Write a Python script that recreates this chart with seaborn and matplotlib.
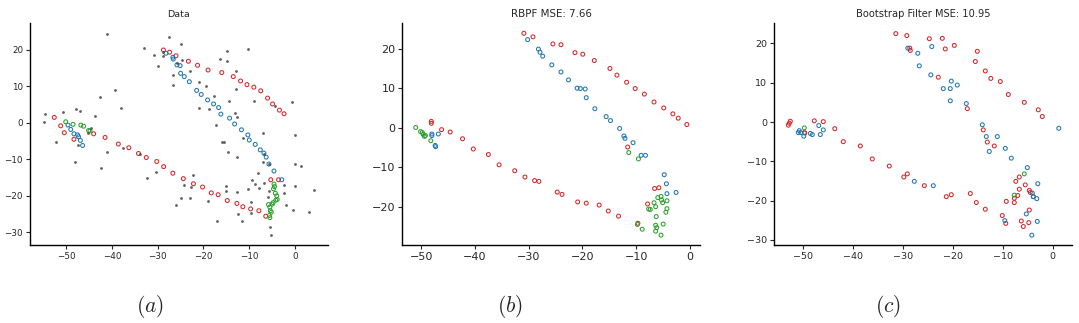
import numpy as np
import pandas as pd
import matplotlib
matplotlib.use("Agg")
import matplotlib.pyplot as plt
import seaborn as sns

# ---------------- data ----------------
# Panel (a): observations
obs_x = [-41.0, -27.5, -25.0, -33.0, -10.3, -14.8, -28.9, -30.8, -28.9, -16.5, -24.6, -14.8, -25.7,
         -29.9, -13.0, -22.9, -26.6, -21.0, -26.6, -19.4, -12.8, -39.4, -42.7, -17.6, -14.4, -9.0,
         -0.7, -4.3, -38.1, -21.0, -18.9, -47.8, -46.9, -50.8, -54.7, -13.2, -43.8, -12.7, -54.9,
         -17.2, -44.5, -6.9, -45.2, -0.1, -11.4, -52.2, -15.6, -16.0, -47.5, -37.5, -14.6, -41.0,
         -33.8, -6.7, -12.6, -48.0, -6.9, -0.1, -5.7, 1.2, -42.4, -30.3, -8.2, -22.3, -32.3, -9.3,
         -8.7, -2.5, -6.7, -15.1, -24.3, -22.8, -10.3, -7.9, 0.1, 4.2, -5.6, -12.6, -15.1, -6.0,
         -22.9, -25.0, -9.6, -19.1, -26.1, -2.0, -0.4, 3.1, -9.7, -12.5, -11.5, -17.0, -5.5, -5.3,
         -2.4]
obs_y = [24.5, 23.6, 21.7, 20.6, 20.3, 19.7, 19.5, 18.7, 18.4, 17.6, 17.3, 16.9, 16.3,
         15.6, 14.2, 14.1, 13.1, 11.3, 10.4, 10.1, 9.4, 9.0, 7.0, 7.3, 6.0, 6.0,
         5.6, 4.5, 4.1, 4.2, 3.9, 3.9, 3.3, 3.1, 2.5, 2.6, 1.8, 1.7, 0.3,
         -0.7, -1.4, -2.9, -2.7, -3.4, -4.2, -5.3, -5.3, -5.3, -6.2, -6.8, -7.9, -7.9,
         -8.4, -8.4, -9.3, -10.7, -10.7, -11.3, -11.4, -11.7, -12.3, -13.5, -13.8, -14.4, -15.0, -15.6,
         -16.7, -17.1, -16.6, -17.4, -17.1, -17.7, -18.1, -18.0, -17.3, -18.3, -18.8, -18.9, -18.8, -20.2,
         -20.5, -20.7, -21.6, -21.4, -22.5, -22.6, -24.0, -24.4, -24.6, -25.1, -26.8, -27.0, -28.6, -30.7,
         -19.1]

# Panel (a): true tracks
a_red_x = [-28.75, -27.4, -26.0, -23.3, -21.3, -19.0, -16.0, -13.5, -11.9, -10.5, -9.0, -7.5, -6.0,
           -4.9, -3.4, -2.4, -52.6, -51.2, -50.4, -48.3, -44.0, -41.5, -38.6, -36.3, -34.2, -32.5,
           -30.2, -28.7, -26.7, -24.4, -22.2, -20.2, -18.3, -16.8, -14.8, -12.7, -11.4, -9.7, -7.9,
           -6.4, -5.3, -3.6]
a_red_y = [20.0, 19.4, 18.4, 16.9, 15.8, 14.5, 13.8, 12.7, 11.5, 10.5, 9.8, 8.8, 6.8,
           5.2, 3.5, 2.5, 1.5, -0.8, -2.7, -4.5, -3.0, -4.0, -5.8, -6.8, -8.4, -9.5,
           -10.6, -12.0, -13.8, -15.3, -16.7, -17.6, -19.2, -19.7, -21.3, -22.1, -23.0, -23.6, -24.1,
           -25.6, -15.6, -15.6]
a_blue_x = [-28.2, -26.7, -26.6, -25.8, -25.1, -25.0, -24.2, -23.1, -21.5, -20.5, -19.1, -17.8, -16.7,
            -16.2, -14.3, -13.2, -11.7, -10.3, -10.0, -8.7, -7.6, -6.8, -6.3, -5.7, -4.6, -2.9,
            -49.6, -49.0, -48.3, -47.5, -47.3, -46.9, -46.4]
a_blue_y = [19.1, 18.0, 17.5, 15.9, 15.7, 13.6, 12.7, 11.3, 8.9, 7.8, 6.3, 5.2, 4.2,
            2.4, 1.3, -0.3, -1.9, -3.3, -4.7, -5.9, -7.4, -8.3, -9.4, -11.3, -13.2, -15.6,
            -0.6, -1.8, -3.0, -3.3, -3.8, -4.8, -6.2]
a_green_x = [-50.1, -48.5, -46.8, -46.2, -45.1, -44.8, -4.6, -4.5, -4.7, -4.3, -4.0, -3.9, -4.2,
             -4.8, -5.0, -5.5, -5.4, -5.2, -5.5, -5.6, -5.8]
a_green_y = [0.3, -0.4, -0.6, -0.9, -2.1, -2.2, -16.8, -17.5, -18.1, -19.3, -20.0, -21.0, -21.2,
             -21.9, -22.3, -23.1, -24.1, -24.5, -26.0, -25.4, -22.4]

# Panel (b): RBPF estimates
b_red_x = [-30.9, -29.2, -25.5, -24.0, -21.4, -19.95, -17.8, -14.9, -13.6, -11.8, -10.2, -8.5, -6.7,
           -4.9, -3.2, -2.2, -0.6, -48.1, -48.1, -46.2, -44.6, -42.3, -40.3, -37.5, -35.5, -32.6,
           -30.7, -28.9, -28.1, -24.7, -23.8, -20.9, -19.3, -16.9, -15.2, -13.3, -9.7, -7.9, -6.6,
           -5.8, -11.6]
b_red_y = [23.9, 23.0, 21.2, 21.0, 19.0, 18.6, 17.0, 15.0, 13.3, 11.5, 9.9, 8.5, 6.5,
           5.0, 3.5, 2.4, 0.8, 1.6, 1.1, -0.5, -1.1, -2.8, -5.4, -6.8, -9.4, -10.9,
           -12.5, -13.4, -13.6, -16.3, -16.9, -18.8, -19.1, -19.6, -21.1, -22.4, -24.2, -19.3, -15.4,
           -15.2, -4.9]
b_blue_x = [-30.2, -28.2, -27.9, -27.4, -25.7, -24.0, -22.6, -21.0, -20.4, -19.5, -19.3, -17.7, -15.6,
            -14.8, -13.1, -12.3, -12.1, -10.6, -9.1, -8.3, -4.8, -4.4, -4.3, -2.6, -48.0, -48.0,
            -47.4, -47.3, -46.8]
b_blue_y = [22.3, 19.9, 19.1, 18.1, 15.9, 14.1, 12.1, 10.0, 9.9, 9.8, 7.6, 4.8, 2.8,
            1.8, -0.2, -2.1, -2.7, -3.8, -7.0, -7.0, -11.9, -14.2, -16.7, -16.4, -1.6, -2.0,
            -4.5, -4.8, -1.6]
b_green_x = [-51.0, -50.1, -49.8, -49.6, -49.4, -49.2, -48.2, -11.4, -9.6, -9.8, -8.9, -6.0, -5.4,
             -5.3, -5.1, -4.3, -6.7, -7.7, -7.4, -6.4, -6.3, -6.4, -6.2, -5.0, -4.5, -4.3, -5.4, -6.4]
b_green_y = [0.05, -1.0, -1.2, -1.7, -2.2, -2.0, -3.3, -6.3, -7.9, -24.5, -25.7, -17.7, -17.4,
             -18.3, -19.0, -18.5, -19.0, -20.6, -20.7, -20.0, -22.5, -24.7, -25.3, -24.4, -21.4, -20.5,
             -27.2, -26.2]

# Panel (c): Bootstrap filter estimates
c_red_x = [-31.4, -29.2, -24.7, -22.1, -19.7, -21.5, -28.6, -28.5, -15.1, -15.5, -13.5, -12.4, -10.5,
           -8.9, -5.7, -2.9, -2.1, -22.9, -17.1, -52.9, -52.7, -52.5, -47.7, -45.9, -49.7, -49.6,
           -43.6, -41.9, -38.5, -36.1, -32.7, -29.8, -29.1, -25.7, -21.3, -20.3, -16.5, -15.3, -13.5,
           -10.1, -9.4, -9.3, -7.7, -7.7, -7.0, -7.4, -6.7, -6.7, -5.5, -4.7, -4.5, -4.7, -4.8,
           -6.3, -5.9, -3.9, -13.9, -13.1, -11.7]
c_red_y = [22.5, 22.0, 21.2, 21.3, 19.5, 18.6, 18.8, 18.2, 18.0, 15.4, 13.0, 11.1, 10.3,
           7.0, 5.0, 3.1, 1.4, 11.4, 3.4, -0.8, -0.3, 0.2, 0.3, 0.1, -2.7, -2.8,
           -1.7, -5.0, -6.1, -9.4, -11.2, -14.0, -13.2, -16.2, -19.0, -18.5, -18.2, -20.5, -22.2,
           -23.8, -25.8, -20.2, -20.5, -19.4, -18.7, -15.1, -14.0, -17.1, -16.0, -17.4, -17.9, -22.4, -25.6,
           -25.2, -26.6, -19.0, -2.0, -5.1, -6.1]
c_blue_x = [-29.0, -27.0, -26.7, -24.2, -24.4, -20.3, -21.9, -20.5, -19.1, -20.5, -17.3, -14.1, -13.3,
            -11.1, -12.7, -9.5, -8.3, -5.1, -3.0, -4.1, -3.9, -3.2, -5.3, -3.1, -9.6, -4.2,
            1.2, -27.7, -23.9, -50.7, -50.9, -50.4, -49.8, -48.5, -48.1, -46.8, -46.5, -45.9]
c_blue_y = [18.8, 17.5, 14.3, 19.2, 12.0, 10.4, 8.5, 8.5, 9.4, 5.4, 4.7, -0.7, -3.7,
            -3.7, -7.5, -6.7, -9.2, -11.6, -15.7, -18.1, -19.0, -19.5, -23.4, -25.3, -25.1, -28.8,
            -1.6, -15.1, -16.2, -2.2, -2.7, -2.7, -3.6, -2.9, -3.2, -0.9, -3.2, -2.0]
c_green_x = [-49.7, -5.7, -7.7]
c_green_y = [-1.5, -13.2, -18.6]

titles = ["Data", "RBPF MSE: 7.66", "Bootstrap Filter MSE: 10.95"]
captions = ["(a)", "(b)", "(c)"]
track_names = ["red", "blue", "green"]
palette = {"red": "#d62728", "blue": "#1f77b4", "green": "#2ca02c"}

# ---------------- style ----------------
sns.set_theme(style="ticks")
plt.rcParams["font.family"] = ["DejaVu Sans"]
plt.rcParams["mathtext.fontset"] = "cm"


def tracks_frame(rx, ry, bx, by, gx, gy):
    parts = []
    for name, xs, ys in zip(track_names, [rx, bx, gx], [ry, by, gy]):
        parts.append(pd.DataFrame({"x": xs, "y": ys, "track": name}))
    return pd.concat(parts, ignore_index=True)


frames = [
    tracks_frame(a_red_x, a_red_y, a_blue_x, a_blue_y, a_green_x, a_green_y),
    tracks_frame(b_red_x, b_red_y, b_blue_x, b_blue_y, b_green_x, b_green_y),
    tracks_frame(c_red_x, c_red_y, c_blue_x, c_blue_y, c_green_x, c_green_y),
]
obs_df = pd.DataFrame({"x": obs_x, "y": obs_y})

W, H = 1079, 323
fig = plt.figure(figsize=(W / 100, H / 100), dpi=100)

lefts = [30, 402.3, 774.3]
width = 298
bottom_px, top_px = 245, 23
xlims = [(-57.9, 7.2), (-53.5, 1.9), (-55.7, 3.9)]
ylims = [(-33.5, 27.4), (-29.7, 26.5), (-31.3, 25.2)]
yticks = [[-30, -20, -10, 0, 10, 20], [-20, -10, 0, 10, 20], [-30, -20, -10, 0, 10, 20]]
tick_fs = [6.3, 8.0, 6.8]
title_fs = [6.8, 7.4, 7.1]
cap_x = [150, 510, 888]

for i in range(3):
    ax = fig.add_axes([lefts[i] / W, 1 - bottom_px / H, width / W, (bottom_px - top_px) / H])
    df = frames[i]
    sns.scatterplot(data=df, x="x", y="y", hue="track", palette=palette, s=8,
                    linewidth=0.75, legend=False, ax=ax)
    coll = ax.collections[-1]
    fc = coll.get_facecolors()
    coll.set_edgecolors(fc)
    coll.set_facecolors("none")
    if i == 0:
        sns.scatterplot(data=obs_df, x="x", y="y", color="#444444", s=4, linewidth=0,
                        alpha=0.85, legend=False, ax=ax)
    ax.set_xlim(*xlims[i])
    ax.set_ylim(*ylims[i])
    ax.set_xticks([-50, -40, -30, -20, -10, 0])
    ax.set_yticks(yticks[i])
    ax.set_xlabel("")
    ax.set_ylabel("")
    ax.tick_params(labelsize=tick_fs[i], length=3, width=0.8, pad=2)
    ax.set_title(titles[i], fontsize=title_fs[i], pad=4)
    for sp in ["left", "bottom"]:
        ax.spines[sp].set_linewidth(1.0)
        ax.spines[sp].set_color("black")
    sns.despine(ax=ax)
    fig.text(cap_x[i] / W, 1 - 306 / H, "$" + captions[i] + "$", fontsize=15.5,
             ha="center", va="center")

fig.savefig("out.png", dpi=100)
